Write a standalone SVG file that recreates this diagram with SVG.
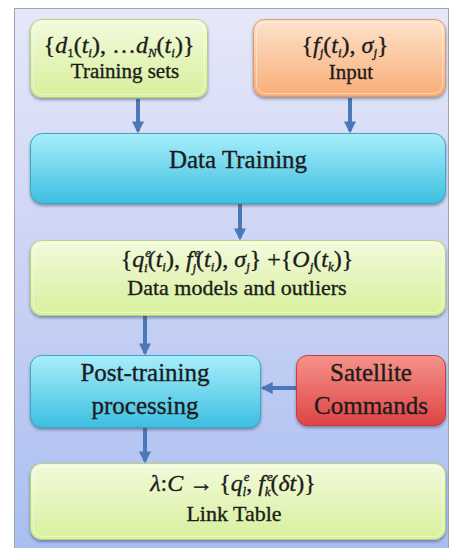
<svg xmlns="http://www.w3.org/2000/svg" width="462" height="548" viewBox="0 0 462 548">
  <defs>
    <linearGradient id="gPanel" x1="0" y1="0" x2="0" y2="1">
      <stop offset="0" stop-color="#e6e8f9"/>
      <stop offset="0.45" stop-color="#ccd4f4"/>
      <stop offset="1" stop-color="#a7bdf1"/>
    </linearGradient>
    <linearGradient id="gGreen" x1="0" y1="0" x2="0" y2="1">
      <stop offset="0" stop-color="#f3fadc"/>
      <stop offset="1" stop-color="#d7f09c"/>
    </linearGradient>
    <linearGradient id="gOrange" x1="0" y1="0" x2="0" y2="1">
      <stop offset="0" stop-color="#fde3cc"/>
      <stop offset="1" stop-color="#f8ad76"/>
    </linearGradient>
    <linearGradient id="gCyan" x1="0" y1="0" x2="0" y2="1">
      <stop offset="0" stop-color="#a8eefb"/>
      <stop offset="1" stop-color="#3cbfe0"/>
    </linearGradient>
    <linearGradient id="gRed" x1="0" y1="0" x2="0" y2="1">
      <stop offset="0" stop-color="#f5928a"/>
      <stop offset="1" stop-color="#de4444"/>
    </linearGradient>
    <filter id="shadow" x="-5%" y="-10%" width="110%" height="130%">
      <feDropShadow dx="0" dy="2" stdDeviation="1.5" flood-color="#203050" flood-opacity="0.45"/>
    </filter>
    <marker id="arrow" viewBox="0 0 10 10" refX="8" refY="5" markerWidth="3" markerHeight="3" orient="auto" markerUnits="strokeWidth">
      <path d="M0,0 L10,5 L0,10 z" fill="#4a78b8"/>
    </marker>
  </defs>
  <style>
    .box { filter: url(#shadow); }
    .green { fill: url(#gGreen); stroke: #b9d27c; stroke-width: 1; }
    .orange { fill: url(#gOrange); stroke: #e39a68; stroke-width: 1; }
    .cyan { fill: url(#gCyan); stroke: #3aa6c6; stroke-width: 1; }
    .red { fill: url(#gRed); stroke: #c43c3c; stroke-width: 1; }
    .hl { fill: none; stroke: #ffffff; stroke-opacity: 0.45; stroke-width: 1; }
    .t, .m { font-family: "Liberation Serif", "Times New Roman", serif; fill: #1c1c1c; stroke: #1c1c1c; stroke-width: 0.35; text-anchor: middle; }
    .m { font-size: 24px; }
    .i { font-style: italic; }
    .s { font-size: 13px; }
    .conn { stroke: #4a78b8; stroke-width: 4; fill: none; marker-end: url(#arrow); }
  </style>

  <!-- background panel -->
  <rect x="14.5" y="8.5" width="434" height="560" fill="url(#gPanel)" stroke="#9ea4b4" stroke-width="1"/>

  <!-- connectors -->
  <g id="connectors">
    <line class="conn" x1="138" y1="99" x2="138" y2="131"/>
    <line class="conn" x1="350" y1="98" x2="350" y2="131"/>
    <line class="conn" x1="240" y1="204" x2="240" y2="238"/>
    <line class="conn" x1="145" y1="316" x2="145" y2="353"/>
    <line class="conn" x1="296" y1="388" x2="263" y2="388"/>
    <line class="conn" x1="145" y1="428" x2="145" y2="461"/>
  </g>

  <!-- training sets -->
  <g id="training-sets">
    <rect class="box green" x="30.5" y="19.5" width="177" height="78" rx="11"/>
    <rect class="hl" x="33.5" y="22.5" width="171" height="72" rx="9"/>
    <text class="m" x="119" y="53" font-size="23">{<tspan class="i">d</tspan><tspan class="s" dy="3.5">1</tspan><tspan dy="-3.5">(</tspan><tspan class="i">t</tspan><tspan class="s i" dy="3.5">i</tspan><tspan dy="-3.5">), …</tspan><tspan class="i">d</tspan><tspan class="s i" dy="3.5">N</tspan><tspan dy="-3.5">(</tspan><tspan class="i">t</tspan><tspan class="s i" dy="3.5">i</tspan><tspan dy="-3.5">)}</tspan></text>
    <text class="t" x="125" y="78" font-size="21">Training sets</text>
  </g>

  <!-- input -->
  <g id="input">
    <rect class="box orange" x="253.5" y="19.5" width="192" height="77" rx="11"/>
    <rect class="hl" x="256.5" y="22.5" width="186" height="71" rx="9"/>
    <text class="m" x="345" y="53">{<tspan class="i">f</tspan><tspan class="s i" dy="3.5">j</tspan><tspan dy="-3.5">(</tspan><tspan class="i">t</tspan><tspan class="s i" dy="3.5">i</tspan><tspan dy="-3.5">), </tspan><tspan class="i">σ</tspan><tspan class="s i" dy="3.5">j</tspan><tspan dy="-3.5">}</tspan></text>
    <text class="t" x="351" y="79" font-size="21">Input</text>
  </g>

  <!-- data training -->
  <g id="data-training">
    <rect class="box cyan" x="30.5" y="133.5" width="415" height="70" rx="12"/>
    <text class="t" x="238" y="168" font-size="25">Data Training</text>
  </g>

  <!-- data models and outliers -->
  <g id="data-models">
    <rect class="box green" x="30.5" y="240.5" width="415" height="75" rx="11"/>
    <rect class="hl" x="33.5" y="243.5" width="409" height="69" rx="9"/>
    <text class="m" x="237" y="267" font-size="25">{<tspan class="i">q</tspan><tspan class="s i" dx="1" dy="-10">e</tspan><tspan class="s i" dx="-7" dy="15">i</tspan><tspan dy="-5">(</tspan><tspan class="i">t</tspan><tspan class="s i" dy="4">i</tspan><tspan dy="-4">), </tspan><tspan class="i">f</tspan><tspan class="s i" dx="2" dy="-10">e</tspan><tspan class="s i" dx="-8" dy="15">j</tspan><tspan dy="-5">(</tspan><tspan class="i">t</tspan><tspan class="s i" dy="4">i</tspan><tspan dy="-4">), </tspan><tspan class="i">σ</tspan><tspan class="s i" dy="4">j</tspan><tspan dy="-4">} +{</tspan><tspan class="i">O</tspan><tspan class="s i" dy="4">j</tspan><tspan dy="-4">(</tspan><tspan class="i">t</tspan><tspan class="s i" dy="4">k</tspan><tspan dy="-4">)}</tspan></text>
    <text class="t" x="237" y="295" font-size="22">Data models and outliers</text>
  </g>

  <!-- post-training processing -->
  <g id="post-training">
    <rect class="box cyan" x="30.5" y="355.5" width="230" height="72" rx="11"/>
    <text class="t" x="145" y="381" font-size="25">Post-training</text>
    <text class="t" x="145" y="414" font-size="25">processing</text>
  </g>

  <!-- satellite commands -->
  <g id="satellite-commands">
    <rect class="box red" x="296.5" y="355.5" width="149" height="70" rx="11"/>
    <text class="t" x="371" y="381" font-size="25">Satellite</text>
    <text class="t" x="371" y="414" font-size="25">Commands</text>
  </g>

  <!-- link table -->
  <g id="link-table">
    <rect class="box green" x="30.5" y="463.5" width="415" height="76" rx="11"/>
    <rect class="hl" x="33.5" y="466.5" width="409" height="70" rx="9"/>
    <text class="m" x="233" y="491"><tspan class="i">λ</tspan>:<tspan class="i">C</tspan>  → {<tspan class="i">q</tspan><tspan class="s i" dx="1" dy="-10">e</tspan><tspan class="s i" dx="-7" dy="15">l</tspan><tspan dy="-5">, </tspan><tspan class="i">f</tspan><tspan class="s i" dx="2" dy="-10">e</tspan><tspan class="s i" dx="-8" dy="15">k</tspan><tspan dy="-5">(</tspan><tspan class="i">δt</tspan>)}</text>
    <text class="t" x="234" y="521" font-size="22">Link Table</text>
  </g>
</svg>
